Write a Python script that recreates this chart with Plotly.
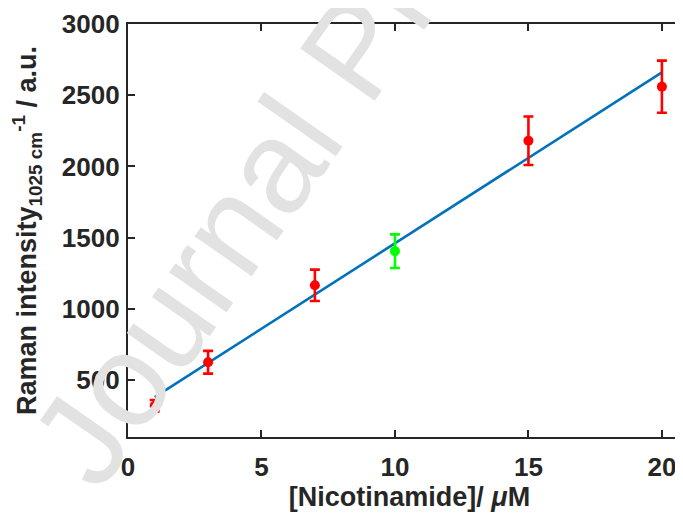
import plotly.graph_objects as go

# Data
conc_red = [1, 3, 7, 15, 20]
intensity_red = [320, 625, 1165, 2180, 2560]
err_red = [40, 80, 110, 170, 183]

conc_green = [10]
intensity_green = [1405]
err_green = [118]

fit_x = [1, 20]
fit_y = [380, 2660]

x_ticks = [0, 5, 10, 15, 20]
y_ticks = [500, 1000, 1500, 2000, 2500, 3000]

# the page has an 8px body margin; figure extends past the window on the right
OFF = 8
W, H = 683, 516
L, R, T, B = 128 - OFF, 0, 24 - OFF, H - (437 - OFF)

fig = go.Figure()
fig.add_trace(go.Scatter(x=fit_x, y=fit_y, mode="lines",
                         line=dict(color="#0072BD", width=2.6), showlegend=False))
fig.add_trace(go.Scatter(x=conc_red, y=intensity_red, mode="markers",
                         marker=dict(color="#FF0000", size=10),
                         error_y=dict(type="data", array=err_red, color="#FF0000",
                                      thickness=2.6, width=5),
                         showlegend=False))
fig.add_trace(go.Scatter(x=conc_green, y=intensity_green, mode="markers",
                         marker=dict(color="#00FF00", size=10),
                         error_y=dict(type="data", array=err_green, color="#00FF00",
                                      thickness=2.6, width=5),
                         showlegend=False))

axis_font = dict(family="Liberation Sans", size=26, color="#262626", weight="bold")
title_font = dict(family="Liberation Sans", size=27, color="#262626", weight="bold")

fig.update_layout(
    width=W, height=H,
    margin=dict(l=L, r=R, t=T, b=B),
    plot_bgcolor="white", paper_bgcolor="white",
    xaxis=dict(range=[0, 21.09], tickvals=x_ticks, ticktext=[str(v) for v in x_ticks],
               ticks="inside", ticklen=7, tickwidth=2, tickcolor="#262626",
               showline=True, linewidth=2.2, linecolor="#262626", mirror="ticks",
               showgrid=False, zeroline=False, automargin=False,
               tickfont=axis_font, ticklabelstandoff=6,
               title=dict(text="[Nicotinamide]/ <i>μ</i>M", font=title_font, standoff=6)),
    yaxis=dict(range=[100, 3000], tickvals=y_ticks, ticktext=[str(v) for v in y_ticks],
               ticks="inside", ticklen=7, tickwidth=2, tickcolor="#262626",
               showline=True, linewidth=2.2, linecolor="#262626", mirror="ticks",
               showgrid=False, zeroline=False, automargin=False,
               tickfont=axis_font, ticklabelstandoff=1,
               title=dict(text="Raman intensity<sub>1025 cm</sub><sup>-1</sup> / a.u.",
                          font=title_font, standoff=18)),
    font=dict(family="Liberation Sans"),
)

# Watermark (screen position of its centre: 354, 50)
fig.add_annotation(text="Journal Pre-proof", xref="paper", yref="paper",
                   x=(354 - OFF - L) / (W - L - R), y=(H - B - (50 - OFF)) / (H - T - B),
                   xanchor="center", yanchor="middle", showarrow=False,
                   textangle=-55,
                   font=dict(family="Liberation Sans", size=132, color="#E2E2E2"))

fig.write_html("out.html")
